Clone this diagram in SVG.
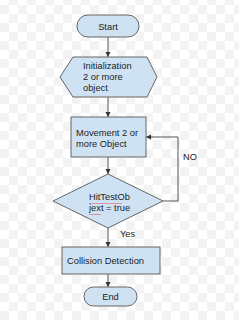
<svg xmlns="http://www.w3.org/2000/svg" width="239" height="320" viewBox="0 0 239 320">
<style>
.n{fill:#cfe2f3;stroke:#666;stroke-width:1}
.t{font-family:"Liberation Sans",Arial,sans-serif;font-size:9.3px;fill:#222}
.c{fill:none;stroke:#555;stroke-width:1}
</style>
<defs>
<pattern id="chk" width="18" height="18" patternUnits="userSpaceOnUse" x="0" y="-4">
<rect width="18" height="18" fill="#fff"/>
<rect x="9" y="0" width="9" height="9" fill="#f3f3f3"/>
<rect x="0" y="9" width="9" height="9" fill="#f3f3f3"/>
</pattern>
<marker id="a" markerWidth="6" markerHeight="6" refX="5" refY="3" orient="auto" markerUnits="userSpaceOnUse">
<path d="M0,0.5 L5,3 L0,5.5 z" fill="#333"/>
</marker>
</defs>
<rect width="239" height="320" fill="url(#chk)"/>
<g id="connectors">
<line class="c" x1="108" y1="37" x2="108" y2="57" marker-end="url(#a)"/>
<line class="c" x1="108" y1="97" x2="108" y2="117" marker-end="url(#a)"/>
<line class="c" x1="108" y1="157" x2="108" y2="174" marker-end="url(#a)"/>
<polyline class="c" points="163,201 178,201 178,137 146,137" marker-end="url(#a)"/>
<text class="t" x="183" y="160">NO</text>
<line class="c" x1="108" y1="228" x2="108" y2="247" marker-end="url(#a)"/>
<text class="t" x="120" y="237">Yes</text>
<line class="c" x1="108" y1="274" x2="108" y2="287" marker-end="url(#a)"/>
</g>
<g id="start">
<rect class="n" x="77" y="15" width="62" height="22" rx="11"/>
<text class="t" x="108" y="29.5" text-anchor="middle">Start</text>
</g>
<g id="init">
<polygon class="n" points="60,77 73,57 147,57 157,77 147,97 73,97"/>
<text class="t" x="83" y="69">Initialization</text>
<text class="t" x="83" y="80">2 or more</text>
<text class="t" x="83" y="91">object</text>
</g>
<g id="movement">
<rect class="n" x="71" y="117" width="75" height="40"/>
<text class="t" x="76" y="136">Movement 2 or</text>
<text class="t" x="76" y="147">more Object</text>
</g>
<g id="decision">
<polygon class="n" points="108,174 163,201 108,228 53,201"/>
<text class="t" x="89" y="200">HitTestOb</text>
<text class="t" x="89" y="211">jext = true</text>
<path d="M89,203 l1,1 1,-1 1,1 1,-1 1,1 1,-1 1,1 1,-1 1,1 1,-1 1,1 1,-1 1,1 1,-1 1,1 1,-1 1,1 1,-1 1,1 1,-1 1,1 1,-1 1,1 1,-1 1,1 1,-1 1,1 1,-1 1,1 1,-1 1,1 1,-1 1,1" fill="none" stroke="#e06060" stroke-width="0.6"/>
<path d="M89,214 l1,1 1,-1 1,1 1,-1 1,1 1,-1 1,1 1,-1 1,1 1,-1 1,1 1,-1" fill="none" stroke="#e06060" stroke-width="0.6"/>
</g>
<g id="collision">
<rect class="n" x="62" y="247" width="98" height="27"/>
<text class="t" x="67" y="264">Collision Detection</text>
</g>
<g id="end">
<rect class="n" x="84" y="287" width="53" height="19" rx="9.5"/>
<text class="t" x="110.5" y="300" text-anchor="middle">End</text>
</g>
</svg>
